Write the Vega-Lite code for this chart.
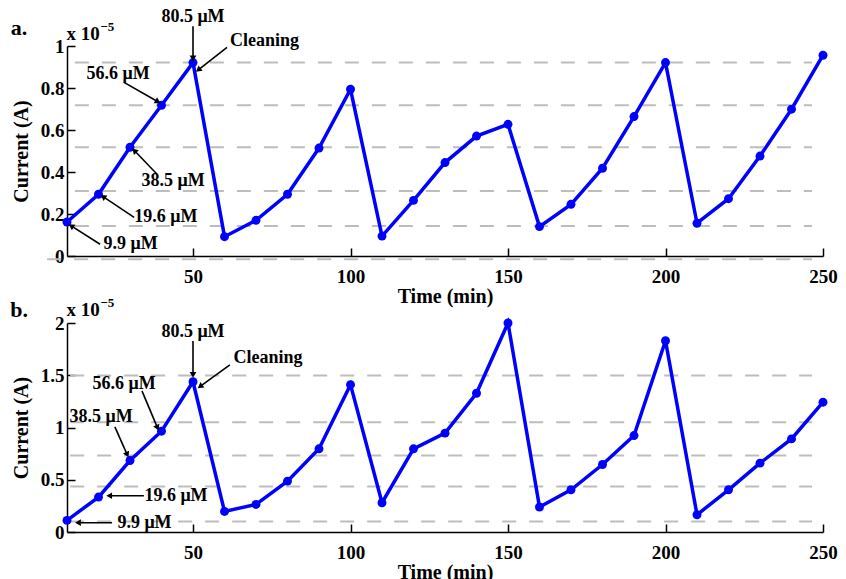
{
  "$schema": "https://vega.github.io/schema/vega-lite/v6.json",
  "background": "white",
  "padding": {"left": 10, "top": 8, "right": 5, "bottom": 5},
  "spacing": 67,
  "bounds": "flush",
  "config": {
    "view": {"stroke": null},
    "axis": {
      "labelFont": "Liberation Serif", "labelFontWeight": "bold", "labelFontSize": 19, "labelColor": "black",
      "titleFont": "Liberation Serif", "titleFontWeight": "bold", "titleFontSize": 20, "titleColor": "black",
      "domainColor": "black", "domainWidth": 1.5, "tickColor": "black", "tickWidth": 1.5, "tickSize": -8, "grid": false,
      "labelFlush": false
    }
  },
  "datasets": {
    "seriesA": [
      {"x":10,"y":0.162},{"x":20,"y":0.294},{"x":30,"y":0.518},{"x":40,"y":0.718},{"x":50,"y":0.921},
      {"x":60,"y":0.092},{"x":70,"y":0.170},{"x":80,"y":0.294},{"x":90,"y":0.514},{"x":100,"y":0.794},
      {"x":110,"y":0.095},{"x":120,"y":0.265},{"x":130,"y":0.445},{"x":140,"y":0.571},{"x":150,"y":0.627},
      {"x":160,"y":0.140},{"x":170,"y":0.246},{"x":180,"y":0.418},{"x":190,"y":0.664},{"x":200,"y":0.921},
      {"x":210,"y":0.156},{"x":220,"y":0.273},{"x":230,"y":0.476},{"x":240,"y":0.699},{"x":250,"y":0.956}
    ],
    "seriesB": [
      {"x":10,"y":0.111},{"x":20,"y":0.334},{"x":30,"y":0.684},{"x":40,"y":0.965},{"x":50,"y":1.438},
      {"x":60,"y":0.197},{"x":70,"y":0.264},{"x":80,"y":0.487},{"x":90,"y":0.796},{"x":100,"y":1.41},
      {"x":110,"y":0.28},{"x":120,"y":0.796},{"x":130,"y":0.946},{"x":140,"y":1.328},{"x":150,"y":2.0},
      {"x":160,"y":0.239},{"x":170,"y":0.404},{"x":180,"y":0.646},{"x":190,"y":0.923},{"x":200,"y":1.83},
      {"x":210,"y":0.165},{"x":220,"y":0.404},{"x":230,"y":0.659},{"x":240,"y":0.891},{"x":250,"y":1.242}
    ],
    "dashA": [
      {"x":12.5,"xe":246.5,"y":0.921},{"x":12.5,"xe":246.5,"y":0.718},{"x":12.5,"xe":246.5,"y":0.518},
      {"x":12.5,"xe":246.5,"y":0.31},{"x":12.5,"xe":246.5,"y":0.143},{"x":3.7,"xe":246.5,"y":-0.015}
    ],
    "dashB": [
      {"x":11,"xe":246.5,"y":1.497},{"x":11,"xe":246.5,"y":1.05},{"x":11,"xe":246.5,"y":0.732},
      {"x":11,"xe":246.5,"y":0.436},{"x":11,"xe":246.5,"y":0.101}
    ],
    "labelsA": [
      {"x":50,"y":1.137,"label":"80.5 μM"},{"x":72.7,"y":1.022,"label":"Cleaning"},
      {"x":26.2,"y":0.865,"label":"56.6 μM"},{"x":43.7,"y":0.356,"label":"38.5 μM"},
      {"x":41.4,"y":0.184,"label":"19.6 μM"},{"x":30.2,"y":0.056,"label":"9.9 μM"}
    ],
    "labelsB": [
      {"x":50,"y":1.914,"label":"80.5 μM"},{"x":73.8,"y":1.668,"label":"Cleaning"},
      {"x":28.1,"y":1.417,"label":"56.6 μM"},{"x":20.8,"y":1.102,"label":"38.5 μM"},
      {"x":44.6,"y":0.347,"label":"19.6 μM"},{"x":34.6,"y":0.089,"label":"9.9 μM"}
    ],
    "arrowsA": [
      {"x":50,"y":0.946,"x2":50,"y2":1.094,"angle":180},
      {"x":51.9,"y":0.889,"x2":60.8,"y2":0.994,"angle":232},
      {"x":38.6,"y":0.737,"x2":28.1,"y2":0.827,"angle":120},
      {"x":31.6,"y":0.499,"x2":38.6,"y2":0.389,"angle":316},
      {"x":21.7,"y":0.280,"x2":31.3,"y2":0.184,"angle":304},
      {"x":11.6,"y":0.141,"x2":20.5,"y2":0.056,"angle":303}
    ],
    "arrowsB": [
      {"x":50,"y":1.513,"x2":50,"y2":1.828,"angle":180},
      {"x":52.5,"y":1.398,"x2":61.7,"y2":1.599,"angle":234},
      {"x":38.6,"y":1.006,"x2":33.8,"y2":1.350,"angle":157},
      {"x":29.0,"y":0.748,"x2":25.2,"y2":1.006,"angle":156},
      {"x":23.7,"y":0.347,"x2":34.4,"y2":0.347,"angle":270},
      {"x":13.8,"y":0.089,"x2":24.3,"y2":0.089,"angle":270}
    ],
    "expA": [{"x":15.1,"y":1.056,"label":"x 10"}],
    "supA": [{"x":22.8,"y":1.089,"label":"−5"}],
    "tagA": [{"x":-5.2,"y":1.084,"label":"a."}],
    "expB": [{"x":15.1,"y":2.124,"label":"x 10"}],
    "supB": [{"x":22.8,"y":2.19,"label":"−5"}],
    "tagB": [{"x":-5.2,"y":2.124,"label":"b."}]
  },
  "vconcat": [
    {
      "width": 756, "height": 210,
      "encoding": {
        "x": {"field":"x","type":"quantitative","scale":{"domain":[10,250],"nice":false,"zero":false},
              "axis":{"title":"Time (min)","values":[50,100,150,200,250],"labelPadding":19,"titlePadding":0}},
        "y": {"field":"y","type":"quantitative","scale":{"domain":[0,1],"nice":false,"zero":false},
              "axis":{"title":"Current (A)","values":[0,0.2,0.4,0.6,0.8,1],"format":"~g","labelPadding":11,"titlePadding":9}}
      },
      "layer": [
        {"data":{"name":"dashA"},"mark":{"type":"rule","color":"#bdbdbd","strokeWidth":2,"strokeDash":[14,13]},"encoding":{"x2":{"field":"xe"}}},
        {"data":{"name":"seriesA"},"mark":{"type":"line","color":"#0000ff","strokeWidth":3.5}},
        {"data":{"name":"seriesA"},"mark":{"type":"point","filled":true,"color":"#0000ff","size":80,"opacity":1}},
        {"data":{"name":"arrowsA"},"mark":{"type":"rule","color":"black","strokeWidth":1.6},"encoding":{"x2":{"field":"x2"},"y2":{"field":"y2"}}},
        {"data":{"name":"arrowsA"},"mark":{"type":"point","shape":"triangle","filled":true,"color":"black","size":45,"opacity":1},"encoding":{"angle":{"field":"angle","type":"quantitative","scale":null}}},
        {"data":{"name":"labelsA"},"mark":{"type":"text","font":"Liberation Serif","fontWeight":"bold","fontSize":18,"baseline":"middle","align":"center","color":"black"},"encoding":{"text":{"field":"label","type":"nominal"}}},
        {"data":{"name":"expA"},"mark":{"type":"text","font":"Liberation Serif","fontWeight":"bold","fontSize":19,"baseline":"middle","align":"center","color":"black"},"encoding":{"text":{"field":"label","type":"nominal"}}},
        {"data":{"name":"supA"},"mark":{"type":"text","font":"Liberation Serif","fontWeight":"bold","fontSize":13,"baseline":"middle","align":"center","color":"black"},"encoding":{"text":{"field":"label","type":"nominal"}}},
        {"data":{"name":"tagA"},"mark":{"type":"text","font":"Liberation Serif","fontWeight":"bold","fontSize":22,"baseline":"middle","align":"center","color":"black"},"encoding":{"text":{"field":"label","type":"nominal"}}}
      ]
    },
    {
      "width": 756, "height": 209,
      "encoding": {
        "x": {"field":"x","type":"quantitative","scale":{"domain":[10,250],"nice":false,"zero":false},
              "axis":{"title":"Time (min)","values":[50,100,150,200,250],"labelPadding":19,"titlePadding":0}},
        "y": {"field":"y","type":"quantitative","scale":{"domain":[0,2],"nice":false,"zero":false},
              "axis":{"title":"Current (A)","values":[0,0.5,1,1.5,2],"format":"~g","labelPadding":11,"titlePadding":9}}
      },
      "layer": [
        {"data":{"name":"dashB"},"mark":{"type":"rule","color":"#bdbdbd","strokeWidth":2,"strokeDash":[14,13]},"encoding":{"x2":{"field":"xe"}}},
        {"data":{"name":"seriesB"},"mark":{"type":"line","color":"#0000ff","strokeWidth":3.5}},
        {"data":{"name":"seriesB"},"mark":{"type":"point","filled":true,"color":"#0000ff","size":80,"opacity":1}},
        {"data":{"name":"arrowsB"},"mark":{"type":"rule","color":"black","strokeWidth":1.6},"encoding":{"x2":{"field":"x2"},"y2":{"field":"y2"}}},
        {"data":{"name":"arrowsB"},"mark":{"type":"point","shape":"triangle","filled":true,"color":"black","size":45,"opacity":1},"encoding":{"angle":{"field":"angle","type":"quantitative","scale":null}}},
        {"data":{"name":"labelsB"},"mark":{"type":"text","font":"Liberation Serif","fontWeight":"bold","fontSize":18,"baseline":"middle","align":"center","color":"black"},"encoding":{"text":{"field":"label","type":"nominal"}}},
        {"data":{"name":"expB"},"mark":{"type":"text","font":"Liberation Serif","fontWeight":"bold","fontSize":19,"baseline":"middle","align":"center","color":"black"},"encoding":{"text":{"field":"label","type":"nominal"}}},
        {"data":{"name":"supB"},"mark":{"type":"text","font":"Liberation Serif","fontWeight":"bold","fontSize":13,"baseline":"middle","align":"center","color":"black"},"encoding":{"text":{"field":"label","type":"nominal"}}},
        {"data":{"name":"tagB"},"mark":{"type":"text","font":"Liberation Serif","fontWeight":"bold","fontSize":22,"baseline":"middle","align":"center","color":"black"},"encoding":{"text":{"field":"label","type":"nominal"}}}
      ]
    }
  ]
}
